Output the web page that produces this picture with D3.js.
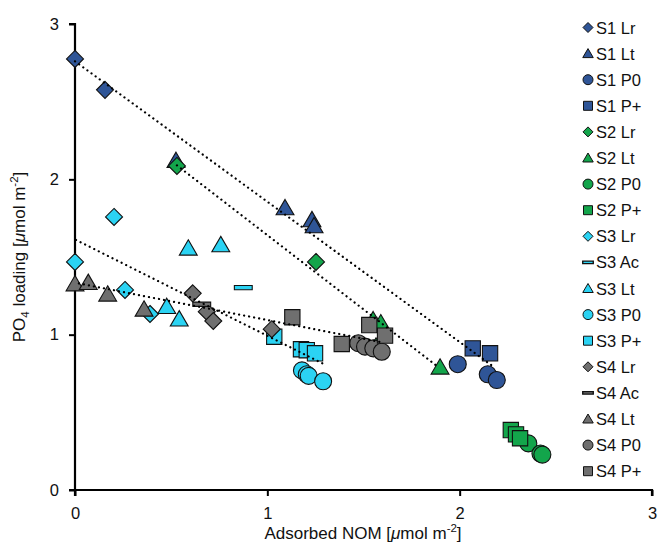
<!DOCTYPE html>
<html>
<head>
<meta charset="utf-8">
<script src="https://cdn.jsdelivr.net/npm/d3@7"></script>
<style>
  body { margin: 0; background: #fff; }
  svg { font-family: "Liberation Sans", Arial, Helvetica, sans-serif; }
</style>
</head>
<body>
<svg width="672" height="545"></svg>
<script>
// data: [adsorbed NOM, PO4 loading]
const s1Lr = [[0, 2.775], [0.156, 2.576]];
const s1Lt = [[0.525, 2.12], [1.092, 1.816], [1.232, 1.739], [1.243, 1.70]];
const s1P0 = [[1.99, 0.81], [2.146, 0.745], [2.193, 0.708]];
const s1Pp = [[2.068, 0.912], [2.158, 0.88]];
const s2Lr = [[0.53, 2.086], [1.253, 1.468]];
const s2Lt = [[1.55, 1.095], [1.59, 1.075], [1.565, 0.925], [1.898, 0.79]];
const s2P0 = [[2.357, 0.30], [2.42, 0.235], [2.43, 0.228]];
const s2Pp = [[2.266, 0.386], [2.293, 0.358], [2.314, 0.333]];
const s3Lr = [[0, 1.468], [0.203, 1.758], [0.26, 1.288], [0.39, 1.133]];
const s3Ac = [[0.875, 1.303]];
const s3Lt = [[0.589, 1.556], [0.758, 1.578], [0.477, 1.18], [0.542, 1.10]];
const s3P0 = [[1.18, 0.77], [1.205, 0.745], [1.215, 0.735], [1.29, 0.70]];
const s3Pp = [[1.036, 0.987], [1.175, 0.906], [1.205, 0.90], [1.248, 0.88]];
const s4Lr = [[0.612, 1.266], [0.685, 1.148], [0.719, 1.088], [1.023, 1.035]];
const s4Ac = [[0.659, 1.196]];
const s4Lt = [[0, 1.326], [0.069, 1.335], [0.17, 1.26], [0.359, 1.163]];
const s4P0 = [[1.473, 0.945], [1.508, 0.923], [1.551, 0.912], [1.595, 0.89]];
const s4Pp = [[1.13, 1.112], [1.387, 0.94], [1.53, 1.062], [1.612, 0.994]];

// dotted trend lines
const trendLines = [
  [[0, 2.76], [2.18, 0.79]],
  [[0.53, 2.09], [1.88, 0.8]],
  [[0.005, 1.61], [1.295, 0.81]],
  [[0.02, 1.33], [1.6, 0.95]]
];

const xTicks = [0, 1, 2, 3];
const yTicks = [0, 1, 2, 3];

const colors = { S1: "#2f5597", S2: "#13a54b", S3: "#2bd3f3", S4: "#6f6f6f" };

const series = [
  { name: "S1 Lr", c: colors.S1, shape: "diamond", data: s1Lr },
  { name: "S1 Lt", c: colors.S1, shape: "triangle", data: s1Lt },
  { name: "S1 P0", c: colors.S1, shape: "circle", data: s1P0 },
  { name: "S1 P+", c: colors.S1, shape: "square", data: s1Pp },
  { name: "S2 Lr", c: colors.S2, shape: "diamond", data: s2Lr },
  { name: "S2 Lt", c: colors.S2, shape: "triangle", data: s2Lt },
  { name: "S2 P0", c: colors.S2, shape: "circle", data: s2P0 },
  { name: "S2 P+", c: colors.S2, shape: "square", data: s2Pp },
  { name: "S3 Lr", c: colors.S3, shape: "diamond", data: s3Lr },
  { name: "S3 Ac", c: colors.S3, shape: "dash", data: s3Ac },
  { name: "S3 Lt", c: colors.S3, shape: "triangle", data: s3Lt },
  { name: "S3 P0", c: colors.S3, shape: "circle", data: s3P0 },
  { name: "S3 P+", c: colors.S3, shape: "square", data: s3Pp },
  { name: "S4 Lr", c: colors.S4, shape: "diamond", data: s4Lr },
  { name: "S4 Ac", c: colors.S4, shape: "dash", data: s4Ac },
  { name: "S4 Lt", c: colors.S4, shape: "triangle", data: s4Lt },
  { name: "S4 P0", c: colors.S4, shape: "circle", data: s4P0 },
  { name: "S4 P+", c: colors.S4, shape: "square", data: s4Pp }
];

var margin = { top: 24, right: 20, bottom: 55, left: 75 };
var width = 652 - margin.left;
var height = 490 - margin.top;

var svg = d3.select("svg");
var g = svg.append("g")
  .attr("transform", `translate(${margin.left}, ${margin.top})`);

var x = d3.scaleLinear().domain([0, 3]).range([0, width]);
var y = d3.scaleLinear().domain([0, 3]).range([height, 0]);

// marker path, s = half size
function shapePath(shape, s) {
  if (shape == "diamond") return `M0,${-s}L${s},0L0,${s}L${-s},0Z`;
  if (shape == "triangle") return `M0,${-s}L${s * 1.05},${s * 0.8}L${-s * 1.05},${s * 0.8}Z`;
  if (shape == "square") return `M${-s * 0.9},${-s * 0.9}h${s * 1.8}v${s * 1.8}h${-s * 1.8}Z`;
  if (shape == "dash") return `M${-s * 1.05},${-s * 0.25}h${s * 2.1}v${s * 0.5}h${-s * 2.1}Z`;
  return `M${s},0A${s},${s} 0 1,1 ${-s},0A${s},${s} 0 1,1 ${s},0Z`;
}

// axes
var yAxis = g.append("g")
  .call(d3.axisLeft(y).tickValues(yTicks).tickFormat(d3.format("d")).tickSize(6).tickPadding(10));
var xAxis = g.append("g")
  .attr("transform", `translate(0, ${height})`)
  .call(d3.axisBottom(x).tickValues(xTicks).tickFormat(d3.format("d")).tickSize(6).tickPadding(11));

[xAxis, yAxis].forEach(function(a) {
  a.select(".domain").attr("stroke", "#000").attr("stroke-width", 2.2);
  a.selectAll(".tick line").attr("stroke", "#000").attr("stroke-width", 2);
  a.selectAll(".tick text").attr("font-size", 16.5).attr("fill", "#111")
    .attr("font-family", "Liberation Sans, Arial, sans-serif");
});
yAxis.select(".domain").attr("d", `M-6,0H0V${height}H-6`);
xAxis.select(".domain").attr("d", `M0,6V0H${width}V6`);

// markers
series.forEach(function(s) {
  g.append("g").selectAll("path")
    .data(s.data)
    .enter().append("path")
    .attr("transform", function(d) { return `translate(${x(d[0])},${y(d[1])})`; })
    .attr("d", shapePath(s.shape, 8.5))
    .attr("fill", s.c)
    .attr("stroke", "#111")
    .attr("stroke-width", 1.1);
});

// dotted lines on top
var line = d3.line().x(function(d) { return x(d[0]); }).y(function(d) { return y(d[1]); });
g.append("g").selectAll("path")
  .data(trendLines)
  .enter().append("path")
  .attr("d", line)
  .attr("fill", "none")
  .attr("stroke", "#000")
  .attr("stroke-width", 2.2)
  .attr("stroke-linecap", "round")
  .attr("stroke-dasharray", "0.1,5");

// legend
var legend = svg.append("g").attr("transform", "translate(588, 27.5)");
var item = legend.selectAll("g")
  .data(series)
  .enter().append("g")
  .attr("transform", function(d, i) { return `translate(0, ${i * 26.1})`; });
item.append("path")
  .attr("d", function(d) { return shapePath(d.shape, 5); })
  .attr("fill", function(d) { return d.c; })
  .attr("stroke", "#111")
  .attr("stroke-width", function(d) { return d.shape == "dash" ? 1.4 : 1; });
item.append("text")
  .attr("x", 8)
  .attr("y", 6)
  .attr("font-size", 16.5)
  .attr("fill", "#111")
  .text(function(d) { return d.name; });

// axis titles
var xt = svg.append("text")
  .attr("x", 363).attr("y", 539)
  .attr("text-anchor", "middle")
  .attr("font-size", 17)
  .attr("fill", "#111");
xt.append("tspan").text("Adsorbed NOM [");
xt.append("tspan").attr("font-style", "italic").text("μ");
xt.append("tspan").text("mol m");
xt.append("tspan").attr("font-size", 11.5).attr("dy", -7).text("-2");
xt.append("tspan").attr("dy", 7).text("]");

var yt = svg.append("text")
  .attr("transform", "translate(25, 257) rotate(-90)")
  .attr("text-anchor", "middle")
  .attr("font-size", 17)
  .attr("fill", "#111");
yt.append("tspan").text("PO");
yt.append("tspan").attr("font-size", 11.5).attr("dy", 4).text("4");
yt.append("tspan").attr("dy", -4).text(" loading [");
yt.append("tspan").attr("font-style", "italic").text("μ");
yt.append("tspan").text("mol m");
yt.append("tspan").attr("font-size", 11.5).attr("dy", -7).text("-2");
yt.append("tspan").attr("dy", 7).text("]");
</script>
</body>
</html>
